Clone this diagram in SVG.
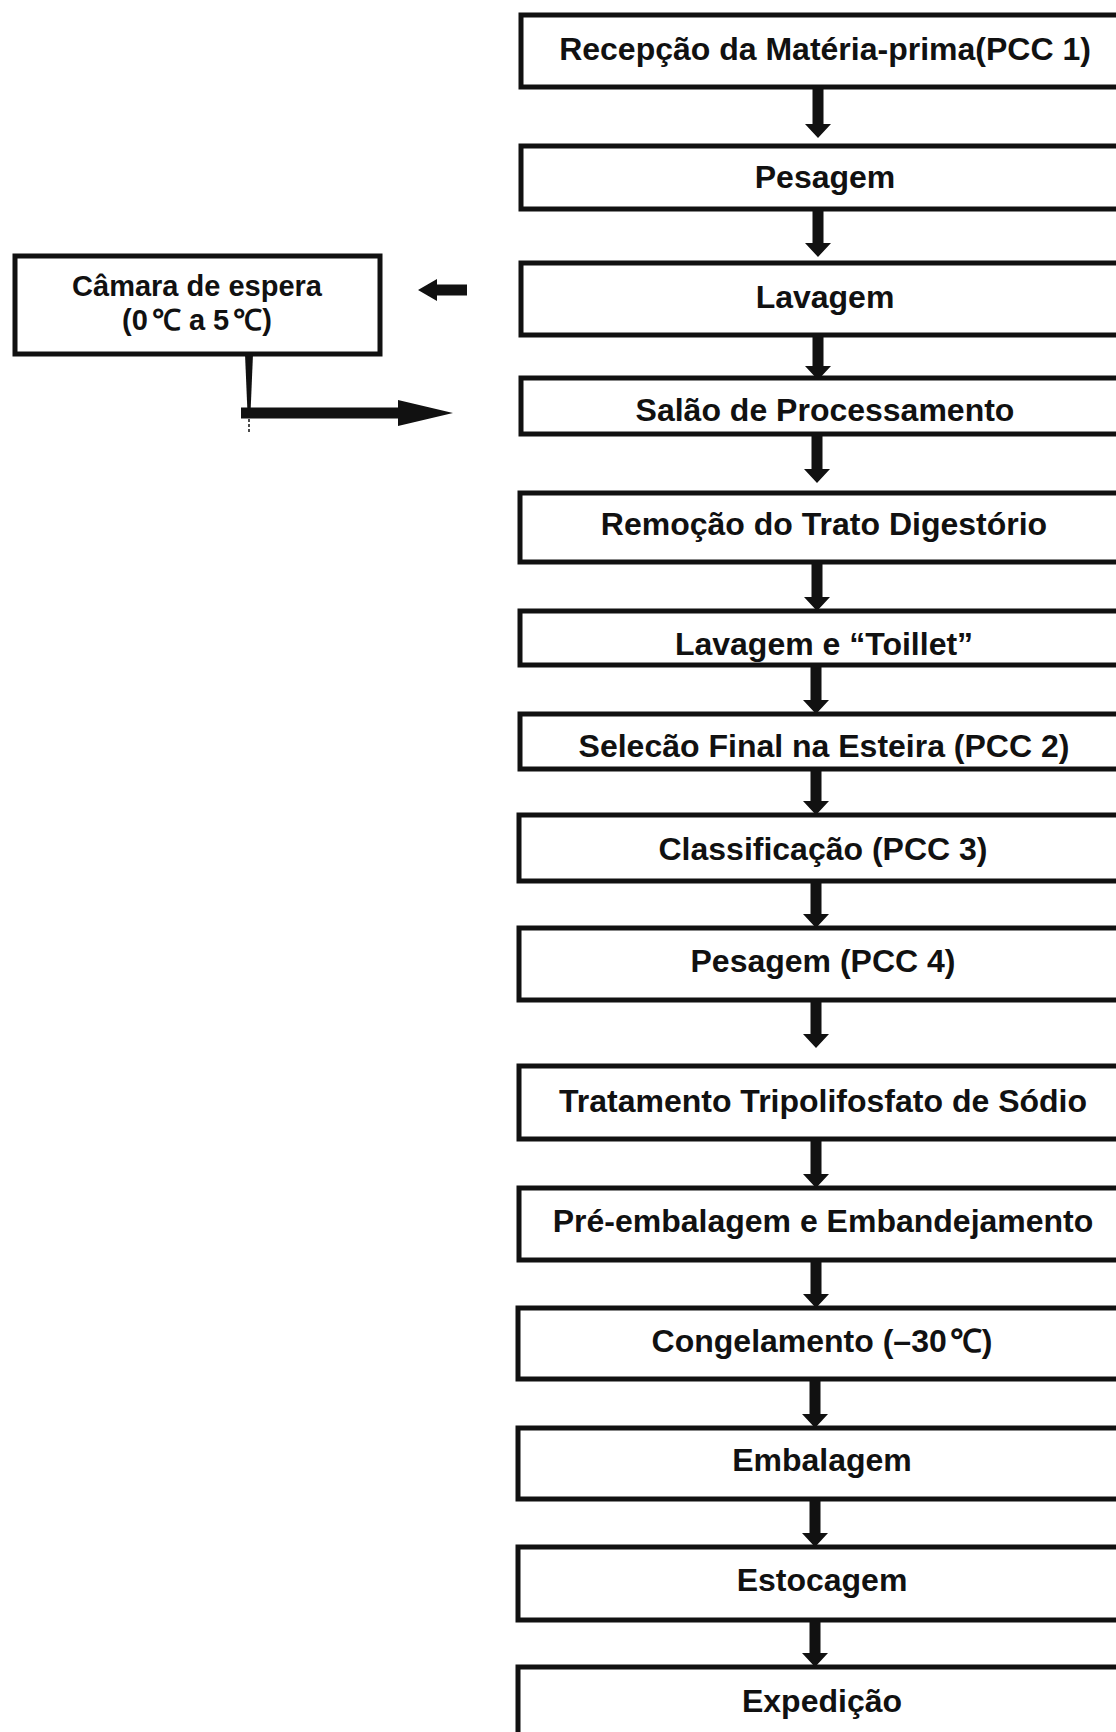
<svg xmlns="http://www.w3.org/2000/svg" width="1116" height="1732" viewBox="0 0 1116 1732">
<style>
.box{fill:#fff;stroke:#111;stroke-width:5}
.edge{fill:none;stroke:#111;stroke-width:5}
.t{font-family:"Liberation Sans",Arial,sans-serif;font-weight:bold;font-size:32px;fill:#111;text-anchor:middle}
.t2{font-family:"Liberation Sans",Arial,sans-serif;font-weight:bold;font-size:29px;fill:#111;text-anchor:middle}
.arr{fill:#111;stroke:none}
</style>
<rect width="1116" height="1732" fill="#fff"/>
<g id="n1"><rect class="box" x="521" y="15" width="620" height="72"/><text class="t" x="825" y="60">Recepção da Matéria-prima(PCC 1)</text></g>
<g id="n2"><rect class="box" x="521" y="146" width="620" height="63"/><text class="t" x="825" y="188">Pesagem</text></g>
<g id="n3"><rect class="box" x="521" y="263" width="620" height="72"/><text class="t" x="825" y="308">Lavagem</text></g>
<g id="n4"><rect class="box" x="521" y="378" width="620" height="56"/><text class="t" x="825" y="421">Salão de Processamento</text></g>
<g id="n5"><rect class="box" x="520" y="493" width="620" height="69"/><text class="t" x="824" y="535">Remoção do Trato Digestório</text></g>
<g id="n6"><text class="t" x="824" y="655">Lavagem e “Toillet”</text><rect class="edge" x="520" y="611" width="620" height="54"/></g>
<g id="n7"><text class="t" x="824" y="757">Selecão Final na Esteira (PCC 2)</text><rect class="edge" x="520" y="714" width="620" height="55"/></g>
<g id="n8"><rect class="box" x="519" y="815" width="620" height="66"/><text class="t" x="823" y="860">Classificação (PCC 3)</text></g>
<g id="n9"><rect class="box" x="519" y="928" width="620" height="72"/><text class="t" x="823" y="972">Pesagem (PCC 4)</text></g>
<g id="n10"><rect class="box" x="519" y="1066" width="620" height="73"/><text class="t" x="823" y="1112">Tratamento Tripolifosfato de Sódio</text></g>
<g id="n11"><rect class="box" x="519" y="1188" width="620" height="72"/><text class="t" x="823" y="1232">Pré-embalagem e Embandejamento</text></g>
<g id="n12"><rect class="box" x="518" y="1308" width="620" height="71"/><text class="t" x="822" y="1352">Congelamento (–30<tspan dx="3">℃</tspan>)</text></g>
<g id="n13"><rect class="box" x="518" y="1428" width="620" height="71"/><text class="t" x="822" y="1471">Embalagem</text></g>
<g id="n14"><rect class="box" x="518" y="1547" width="620" height="73"/><text class="t" x="822" y="1591">Estocagem</text></g>
<g id="n15"><rect class="box" x="518" y="1667" width="620" height="100"/><text class="t" x="822" y="1712">Expedição</text></g>
<g id="n16"><rect class="box" x="15" y="256" width="365" height="98"/><text class="t2" x="197" y="296">Câmara de espera</text><text class="t2" x="197" y="330">(0<tspan dx="4">℃</tspan> a 5<tspan dx="4">℃</tspan>)</text></g>
<g id="connectors">
<path class="arr" d="M812.5 87H823.5V124H831L818 138L805 124H812.5Z"/>
<path class="arr" d="M812.5 209H823.5V243H831L818 257L805 243H812.5Z"/>
<path class="arr" d="M812.5 335H823.5V366H831L818 380L805 366H812.5Z"/>
<path class="arr" d="M811.5 434H822.5V469H830L817 483L804 469H811.5Z"/>
<path class="arr" d="M811.5 562H822.5V597H830L817 611L804 597H811.5Z"/>
<path class="arr" d="M810.5 665H821.5V700H829L816 714L803 700H810.5Z"/>
<path class="arr" d="M810.5 769H821.5V801H829L816 815L803 801H810.5Z"/>
<path class="arr" d="M810.5 881H821.5V914H829L816 928L803 914H810.5Z"/>
<path class="arr" d="M810.5 1000H821.5V1034H829L816 1048L803 1034H810.5Z"/>
<path class="arr" d="M810.5 1139H821.5V1174H829L816 1188L803 1174H810.5Z"/>
<path class="arr" d="M810.5 1260H821.5V1294H829L816 1308L803 1294H810.5Z"/>
<path class="arr" d="M809.5 1379H820.5V1414H828L815 1428L802 1414H809.5Z"/>
<path class="arr" d="M809.5 1499H820.5V1533H828L815 1547L802 1533H809.5Z"/>
<path class="arr" d="M809.5 1620H820.5V1653H828L815 1667L802 1653H809.5Z"/>
<path class="arr" d="M467 284.5V295.5H437V301L418 290L437 279V284.5Z"/>
<path class="arr" d="M245 354H253L250.5 413H247.5Z"/>
<path class="arr" d="M241 407.5H398V400L453 413L398 426V418.5H241Z"/>
<path d="M249 419V433" stroke="#111" stroke-width="1.5" stroke-dasharray="3 2"/>
</g>
</svg>
